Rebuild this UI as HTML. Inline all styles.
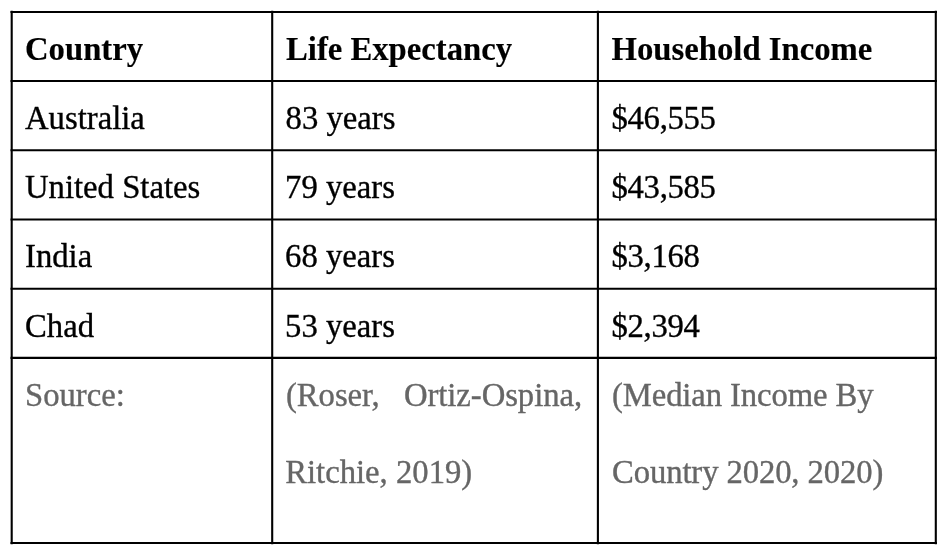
<!DOCTYPE html>
<html>
<head>
<meta charset="utf-8">
<title>Table</title>
<style>
html,body{margin:0;padding:0;background:#fff;}
body{width:948px;height:555px;position:relative;overflow:hidden;font-family:"Liberation Serif","Times New Roman",serif;font-size:32.7px;color:#000;}
svg.grid{position:absolute;left:0;top:0;}
.t{-webkit-text-stroke:0.35px currentColor;position:absolute;white-space:nowrap;line-height:40px;height:40px;}
.b{font-weight:bold;-webkit-text-stroke:0.15px currentColor;}
.g{color:#666;}
</style>
</head>
<body>
<svg class="grid" width="948" height="555" viewBox="0 0 948 555">
<g stroke="#000" stroke-width="2.1" fill="none">
<line x1="10.5" y1="12" x2="937" y2="12"/>
<line x1="10.5" y1="81" x2="937" y2="81"/>
<line x1="10.5" y1="150.3" x2="937" y2="150.3"/>
<line x1="10.5" y1="219.5" x2="937" y2="219.5"/>
<line x1="10.5" y1="288.7" x2="937" y2="288.7"/>
<line x1="10.5" y1="357.9" x2="937" y2="357.9"/>
<line x1="10.5" y1="543" x2="937" y2="543"/>
<line x1="11.7" y1="10.7" x2="11.7" y2="544.3"/>
<line x1="272.2" y1="10.7" x2="272.2" y2="544.3"/>
<line x1="597.9" y1="10.7" x2="597.9" y2="544.3"/>
<line x1="935.8" y1="10.7" x2="935.8" y2="544.3"/>
</g>
</svg>
<div class="t b" style="left:25px;top:29px;">Country</div>
<div class="t b" style="left:286px;top:29px;">Life Expectancy</div>
<div class="t b" style="left:611.6px;top:29px;">Household Income</div>

<div class="t" style="left:25px;top:98px;">Australia</div>
<div class="t" style="left:285.6px;top:98px;">83 years</div>
<div class="t" style="left:611.5px;top:98px;letter-spacing:-0.3px;">$46,555</div>

<div class="t" style="left:25px;top:167px;">United States</div>
<div class="t" style="left:285.1px;top:167px;">79 years</div>
<div class="t" style="left:611.5px;top:167px;letter-spacing:-0.3px;">$43,585</div>

<div class="t" style="left:25px;top:236px;">India</div>
<div class="t" style="left:285.1px;top:236px;">68 years</div>
<div class="t" style="left:611.5px;top:236px;letter-spacing:-0.3px;">$3,168</div>

<div class="t" style="left:25px;top:306px;">Chad</div>
<div class="t" style="left:285.1px;top:306px;">53 years</div>
<div class="t" style="left:611.5px;top:306px;letter-spacing:-0.3px;">$2,394</div>

<div class="t g" style="left:25px;top:375px;">Source:</div>
<div class="t g" style="left:286px;top:375px;word-spacing:16.1px;letter-spacing:-0.05px;">(Roser, Ortiz-Ospina,</div>
<div class="t g" style="left:285.2px;top:452px;">Ritchie, 2019)</div>
<div class="t g" style="left:612px;top:375px;letter-spacing:-0.11px;">(Median Income By</div>
<div class="t g" style="left:612px;top:452px;letter-spacing:-0.11px;">Country 2020, 2020)</div>
</body>
</html>
